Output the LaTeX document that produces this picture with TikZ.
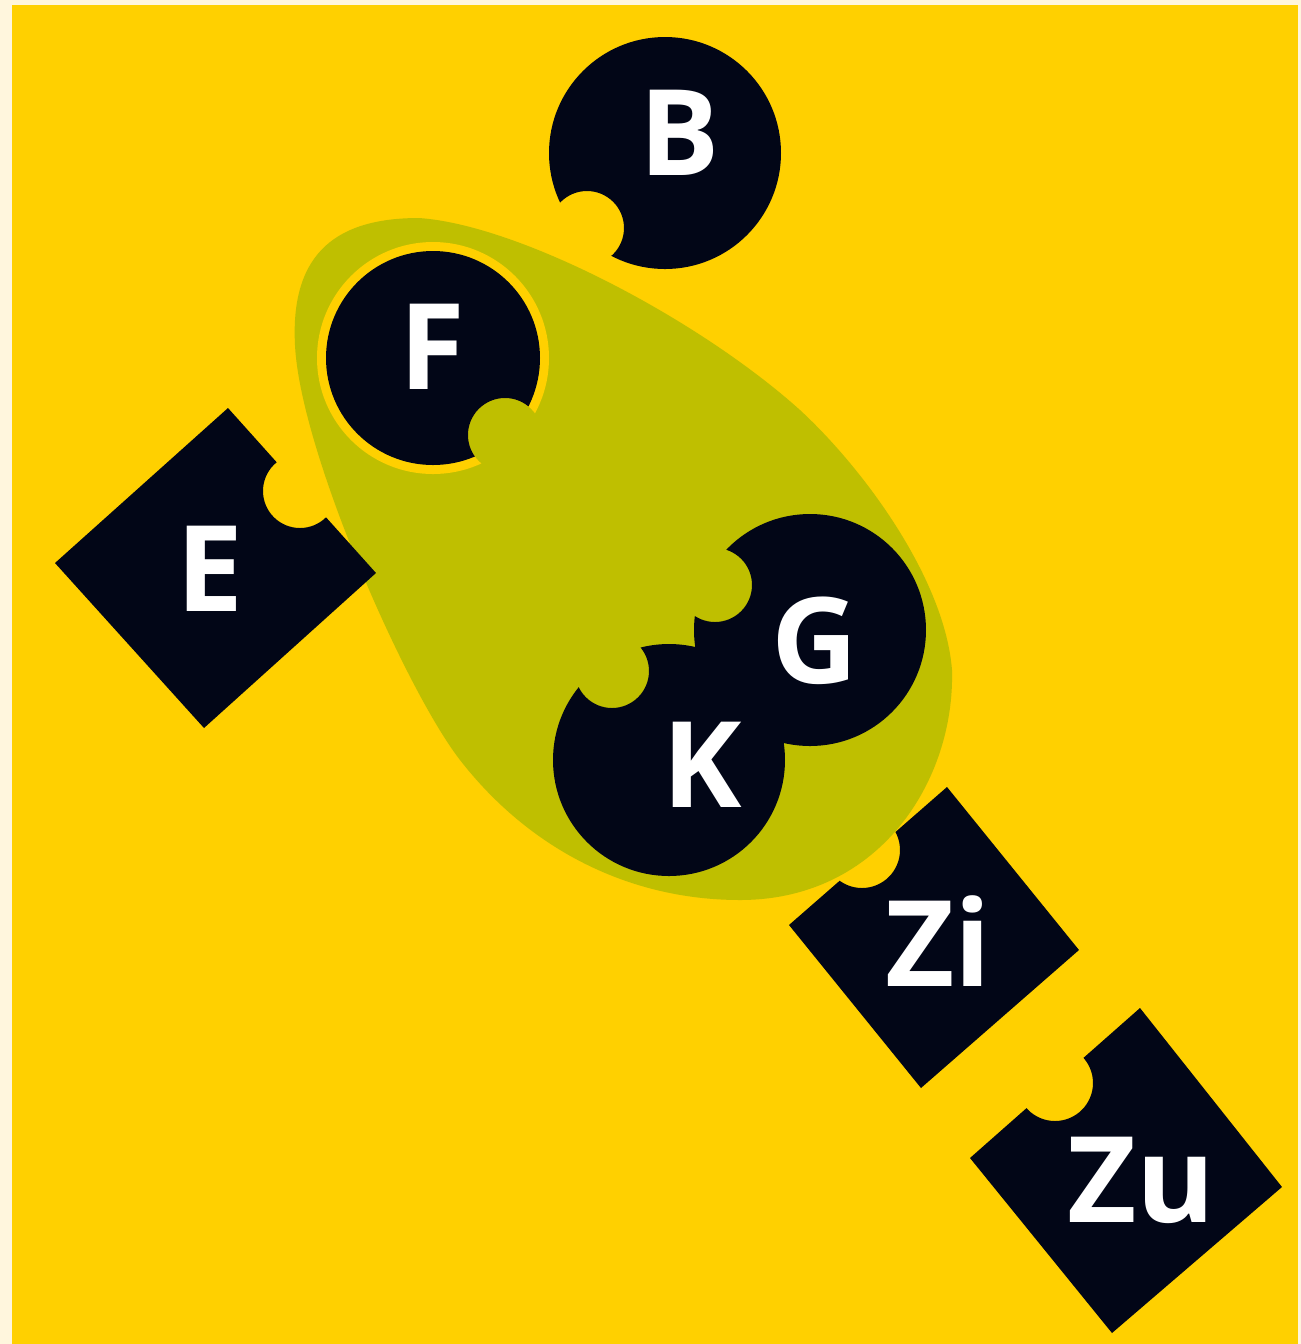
\documentclass[tikz,border=0pt]{standalone}
\usepackage{fontspec}
\setmainfont{Open Sans}
\usetikzlibrary{positioning}
\definecolor{cream}{HTML}{FFF6DD}
\definecolor{mustard}{HTML}{FFD000}
\definecolor{olive}{HTML}{BFBF00}
\definecolor{ink}{HTML}{020617}
\tikzset{
  ground/.style={fill=mustard},
  blob/.style={fill=olive},
  piece/.style={fill=ink, nonzero rule},
  halo/.style={fill=mustard, nonzero rule},
  lbl/.style={text=white, inner sep=0pt, font=\fontsize{34}{40}\selectfont\bfseries}
}

\begin{document}
\begin{tikzpicture}[x=0.01cm, y=-0.01cm]
 \useasboundingbox (0,0) rectangle (1301,1344);
 \fill[cream] (0,0) rectangle (1301,1344);
 \fill[ground] (12,5) rectangle (1298,1344);
 % the olive group behind F, G and K
 \fill[blob] (419,218) .. controls (520,225) and (700,320) .. (800,410)
   .. controls (865,470) and (945,580) .. (952,670)
   .. controls (955,780) and (880,900) .. (740,900)
   .. controls (630,900) and (530,850) .. (460,760)
   .. controls (405,689) and (300,450) .. (295,345)
   .. controls (290,250) and (340,218) .. (419,218) -- cycle;
 % round pieces
 \coordinate (Bc) at (665,153); \coordinate (Bn) at (587,228);
 \coordinate (Fc) at (433,358); \coordinate (Fn) at (505,435);
 \coordinate (Gc) at (810,630); \coordinate (Gn) at (715,585);
 \coordinate (Kc) at (669,760); \coordinate (Kn) at (612,671);
 \begin{scope}[even odd rule]\clip (0,0) rectangle (1301,1344) (Bn) circle (37);
  \fill[piece] (Bc) circle (116); \end{scope}
 \begin{scope}[even odd rule]\clip (0,0) rectangle (1301,1344) (Fn) circle (37);
  \fill[halo] (Fc) circle (116); \fill[piece] (Fc) circle (107); \end{scope}
 \begin{scope}[even odd rule]\clip (0,0) rectangle (1301,1344) (Gn) circle (37);
  \fill[piece] (Gc) circle (116); \end{scope}
 \begin{scope}[even odd rule]\clip (0,0) rectangle (1301,1344) (Kn) circle (37);
  \fill[piece] (Kc) circle (116); \end{scope}
 % square pieces
 \coordinate (En) at (300,491);
 \coordinate (Zin) at (862,850);
 \coordinate (Zun) at (1055,1083);
 \begin{scope}[even odd rule]\clip (0,0) rectangle (1301,1344) (En) circle (37);
  \fill[piece] (228,408) -- (376,573) -- (204,728) -- (55,563) -- cycle; \end{scope}
 \begin{scope}[even odd rule]\clip (0,0) rectangle (1301,1344) (Zin) circle (38);
  \fill[piece] (947,787) -- (1079,950) -- (921,1088) -- (789,925) -- cycle; \end{scope}
 \begin{scope}[even odd rule]\clip (0,0) rectangle (1301,1344) (Zun) circle (38);
  \fill[piece] (1140,1008) -- (1282,1187) -- (1112,1333) -- (970,1158) -- cycle; \end{scope}
 % labels
 \node[lbl] (B) at (680,133) {B};
 \node[lbl] (F) at (432,347) {F};
 \node[lbl] (E) at (210,569) {E};
 \node[lbl] (G) at (815,641) {G};
 \node[lbl] (K) at (702,765) {K};
 \node[lbl] (Zi) at (938,941) {Zi};
 \node[lbl] (Zu) at (1141,1180) {Zu};
\end{tikzpicture}
\end{document}
